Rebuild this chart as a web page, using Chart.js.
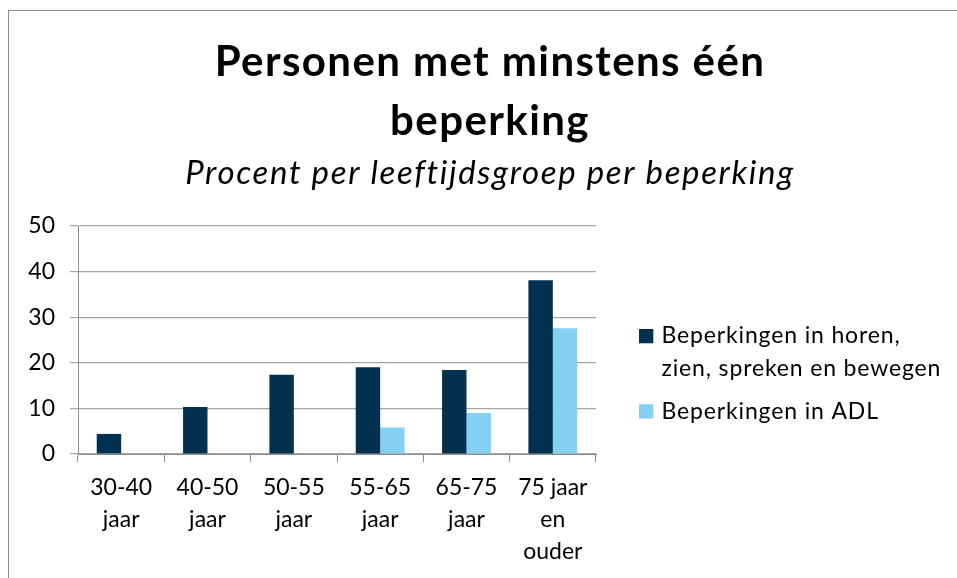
<!DOCTYPE html>
<html><head><meta charset="utf-8">
<script src="https://cdn.jsdelivr.net/npm/chart.js@4/dist/chart.umd.min.js"></script>
<style>
html,body{margin:0;padding:0;background:#fff;}
#wrap{position:relative;width:957px;height:578px;overflow:hidden;background:#fff;}
#frame{position:absolute;left:8px;top:10px;width:2000px;height:2000px;border-left:1px solid #8c8c8c;border-top:1px solid #8c8c8c;}
canvas{position:absolute;left:0;top:0;}
</style></head><body>
<div id="wrap"><div id="frame"></div><canvas id="c" width="957" height="578"></canvas></div>
<script>
const categories = [['30-40','jaar'],['40-50','jaar'],['50-55','jaar'],['55-65','jaar'],['65-75','jaar'],['75 jaar','en','ouder']];
const seriesNames = [['Beperkingen in horen,','zien, spreken en bewegen'],['Beperkingen in ADL']];
const horenZienSprekenBewegen = [4.4,10.3,17.4,19.0,18.4,38.1];
const adl = [null,null,null,5.8,9.0,27.6];
const yTicks = [0,10,20,30,40,50];
const titleLines = ['Personen met minstens één','beperking'];
const subtitle = 'Procent per leeftijdsgroep per beperking';
const seriesColors = ['#02314f','#84d0f3'];

Chart.defaults.font.family = 'Lato, "Open Sans", sans-serif';
Chart.defaults.color = '#000';

const overlay = {
  id: 'overlay',
  afterDraw(chart) {
    const ctx = chart.ctx;
    ctx.save();
    ctx.fillStyle = '#000';
    ctx.textAlign = 'center';
    ctx.textBaseline = 'alphabetic';
    ctx.font = 'bold 42px Lato';
    ctx.letterSpacing = '1.4px';
    ctx.fillText(titleLines[0], 490, 76);
    ctx.fillText(titleLines[1], 490, 134.5);
    ctx.font = 'italic 33px Lato';
    ctx.letterSpacing = '1.65px';
    ctx.fillText(subtitle, 490, 183.5);
    // legend
    ctx.textAlign = 'left';
    ctx.font = '23px Lato';
    ctx.letterSpacing = '0.85px';
    const baselines = [[343.3, 376], [418.6]];
    chart.data.datasets.forEach((ds, i) => {
      const lines = seriesNames[i];
      const b = baselines[i];
      ctx.fillStyle = ds.backgroundColor;
      ctx.fillRect(639, b[0] - 14.3, 14.3, 14.3);
      ctx.fillStyle = '#000';
      lines.forEach((t, j) => ctx.fillText(t, 661.5, b[j]));
    });
    ctx.restore();
  }
};

new Chart(document.getElementById('c'), {
  type: 'bar',
  data: {
    labels: categories,
    datasets: [
      { label: seriesNames[0].join(' '), data: horenZienSprekenBewegen, backgroundColor: seriesColors[0], categoryPercentage: 0.566, barPercentage: 1 },
      { label: seriesNames[1].join(' '), data: adl, backgroundColor: seriesColors[1], categoryPercentage: 0.566, barPercentage: 1 }
    ]
  },
  options: {
    responsive: false,
    animation: false,
    layout: { padding: { top: 226, right: 361, left: 0, bottom: 0 } },
    plugins: { legend: { display: false }, title: { display: false }, tooltip: { enabled: false } },
    scales: {
      x: {
        grid: { display: true, drawOnChartArea: false, drawTicks: true, tickLength: 8, color: '#8c8c8c', offset: true },
        border: { display: true, color: '#8c8c8c' },
        ticks: { color: '#000', font: { size: 23, lineHeight: 1.38 }, padding: 10, maxRotation: 0, autoSkip: false },
        afterFit(s) { s.height = 124; }
      },
      y: {
        min: 0, max: 50,
        afterBuildTicks(s) { s.ticks = yTicks.map(v => ({ value: v })); },
        ticks: { color: '#000', font: { size: 23 }, padding: 15 },
        grid: { color: '#a6a6a6', tickLength: 8, lineWidth: 1.2 },
        border: { display: true, color: '#8c8c8c' },
        afterFit(s) { s.width = 78; }
      }
    }
  },
  plugins: [overlay]
});
</script>
</body></html>
